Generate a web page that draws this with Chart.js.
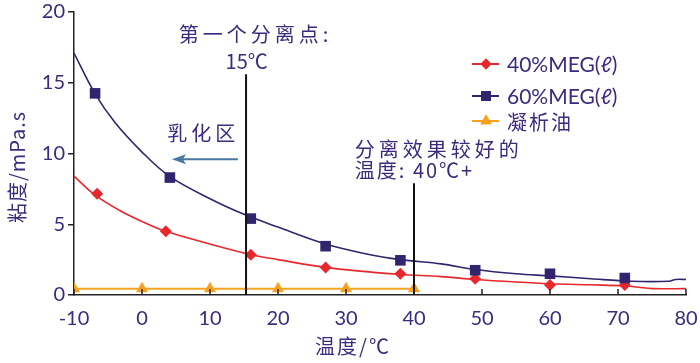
<!DOCTYPE html>
<html><head><meta charset="utf-8">
<script src="https://cdn.jsdelivr.net/npm/chart.js@4.4.0/dist/chart.umd.min.js"></script>
<style>html,body{margin:0;padding:0;background:#fff;}#wrap{width:700px;height:363px;}</style>
</head><body><div id="wrap"><canvas id="c" width="700" height="363"></canvas></div>
<script>
// ---- data ----
const xTicks = [-10, 0, 10, 20, 30, 40, 50, 60, 70, 80];
const yTicks = [0, 5, 10, 15, 20];

const meg40X = [-6.6, 3.5, 16, 27, 38, 49, 60, 71];
const meg40Y = [7.15, 4.5, 2.85, 1.95, 1.5, 1.15, 0.7, 0.7];
const meg60X = [-6.9, 4.1, 16, 27, 38, 49, 60, 71];
const meg60Y = [14.25, 8.3, 5.4, 3.45, 2.45, 1.75, 1.5, 1.2];
const oilX = [-10, 0, 10, 20, 30, 40];
const oilY = [0.45, 0.45, 0.45, 0.45, 0.45, 0.45];

const curve40X = [-10, -7, -3, 0, 3.5, 10, 16, 20, 27, 33, 38, 44, 49, 55, 60, 66, 71, 73, 75, 80];
const curve40Y = [8.4, 7.1, 5.9, 5.2, 4.5, 3.6, 2.85, 2.5, 1.95, 1.65, 1.45, 1.3, 1.1, 0.92, 0.8, 0.72, 0.65, 0.55, 0.45, 0.45];
const curve60X = [-10, -7, -4, 0, 4, 10, 15, 20, 27, 33, 38, 44, 49, 55, 60, 66, 72, 77.5, 78.5, 80];
const curve60Y = [17.1, 14.3, 12.2, 10.1, 8.4, 6.8, 5.7, 4.8, 3.6, 2.9, 2.5, 2.2, 1.8, 1.5, 1.35, 1.15, 0.97, 0.97, 1.1, 1.1];

const seriesNames = ['40%MEG(ℓ)', '60%MEG(ℓ)', '凝析油'];
const C40 = '#e8282c', C60 = '#33246f', COIL = '#f5a21f', TXT = '#3b2a7e', ARROW = '#4b78a3';

const zip = (xs, ys) => xs.map((x, i) => ({x, y: ys[i]}));

const annot = {
  id: 'annot',
  afterDatasetsDraw(chart) {
    const {ctx, scales: {x, y}} = chart;
    ctx.save();
    // vertical separation lines
    ctx.strokeStyle = '#111'; ctx.lineWidth = 2;
    ctx.beginPath();
    ctx.moveTo(x.getPixelForValue(15.3), y.getPixelForValue(15.6));
    ctx.lineTo(x.getPixelForValue(15.3), y.getPixelForValue(0));
    ctx.moveTo(x.getPixelForValue(40), y.getPixelForValue(7.9));
    ctx.lineTo(x.getPixelForValue(40), y.getPixelForValue(0));
    ctx.stroke();
    // inward x ticks
    ctx.strokeStyle = '#222'; ctx.lineWidth = 1.5;
    ctx.beginPath();
    xTicks.forEach(v => { const px = x.getPixelForValue(v); ctx.moveTo(px, y.bottom); ctx.lineTo(px, y.bottom - 6); });
    ctx.stroke();
    // arrow
    const ay = y.getPixelForValue(9.6), ax1 = x.getPixelForValue(14.1), ax0 = x.getPixelForValue(4.4);
    ctx.strokeStyle = ARROW; ctx.fillStyle = ARROW; ctx.lineWidth = 2;
    ctx.beginPath(); ctx.moveTo(ax1, ay); ctx.lineTo(ax0 + 10, ay); ctx.stroke();
    ctx.beginPath(); ctx.moveTo(ax0, ay); ctx.lineTo(ax0 + 14, ay - 5); ctx.lineTo(ax0 + 11, ay); ctx.lineTo(ax0 + 14, ay + 5); ctx.closePath(); ctx.fill();
    // texts
    ctx.fillStyle = TXT; ctx.textBaseline = 'middle';
    ctx.font = '20px "Noto Sans CJK SC"';
    ctx.letterSpacing = '4px';
    ctx.textAlign = 'center';
    ctx.fillText('第一个分离点:', x.getPixelForValue(16.7), y.getPixelForValue(18.45));
    ctx.fillText('乳化区', x.getPixelForValue(9.0), y.getPixelForValue(11.4));
    ctx.letterSpacing = '0px';
    ctx.fillText('15℃', x.getPixelForValue(15.4), y.getPixelForValue(16.5));
    ctx.textAlign = 'left';
    ctx.letterSpacing = '4px';
    ctx.fillText('分离效果较好的', x.getPixelForValue(31.3), y.getPixelForValue(10.3));
    ctx.letterSpacing = '2px';
    ctx.fillText('温度: 40℃+', x.getPixelForValue(31.3), y.getPixelForValue(8.8));
    ctx.letterSpacing = '0px';
    // axis titles
    ctx.font = '20px "Noto Sans CJK SC"';
    ctx.textAlign = 'center';
    ctx.letterSpacing = '2px';
    ctx.fillText('温度/℃', 353, 346);
    ctx.letterSpacing = '1px';
    ctx.save(); ctx.translate(17, 167); ctx.rotate(-Math.PI / 2); ctx.fillText('粘度/mPa.s', 0, 0); ctx.restore();
    // legend
    const rows = [
      {name: seriesNames[0], c: C40, st: 'rectRot', r: 5.5, y: 64},
      {name: seriesNames[1], c: C60, st: 'rect', r: 7, y: 96},
      {name: seriesNames[2], c: COIL, st: 'triangle', r: 6.5, y: 121}
    ];
    rows.forEach(rw => {
      ctx.strokeStyle = rw.c; ctx.lineWidth = 2;
      ctx.beginPath(); ctx.moveTo(472, rw.y); ctx.lineTo(499, rw.y); ctx.stroke();
      ctx.fillStyle = rw.c;
      Chart.helpers.drawPoint(ctx, {pointStyle: rw.st, radius: rw.r, rotation: 0, borderWidth: 0}, 486, rw.y);
      ctx.fill();
      ctx.fillStyle = TXT; ctx.textAlign = 'left';
      ctx.font = rw.name === '凝析油' ? '20px "Noto Sans CJK SC"' : '21px Lato';
      ctx.letterSpacing = rw.name === '凝析油' ? '2px' : '0px';
      ctx.fillText(rw.name, 507, rw.y + 1);
    });
    ctx.restore();
  }
};

new Chart(document.getElementById('c'), {
  type: 'scatter',
  data: {
    datasets: [
      {label: 'c60', data: zip(curve60X, curve60Y), showLine: true, borderColor: C60, borderWidth: 1.6, pointRadius: 0, tension: 0.35},
      {label: 'c40', data: zip(curve40X, curve40Y), showLine: true, borderColor: C40, borderWidth: 1.6, pointRadius: 0, tension: 0.35},
      {label: seriesNames[2], data: zip(oilX, oilY), showLine: true, borderColor: COIL, backgroundColor: COIL, borderWidth: 2, pointStyle: 'triangle', pointRadius: 7, pointBorderWidth: 0},
      {label: seriesNames[1], data: zip(meg60X, meg60Y), showLine: false, backgroundColor: C60, borderColor: C60, pointStyle: 'rect', pointRadius: 7.5, pointBorderWidth: 0},
      {label: seriesNames[0], data: zip(meg40X, meg40Y), showLine: false, backgroundColor: C40, borderColor: C40, pointStyle: 'rectRot', pointRadius: 6, pointBorderWidth: 0}
    ]
  },
  options: {
    responsive: false, animation: false, devicePixelRatio: 1,
    layout: {padding: {top: 12, right: 14, left: 0, bottom: 0}},
    plugins: {legend: {display: false}, tooltip: {enabled: false}},
    scales: {
      x: {
        type: 'linear', min: -10, max: 80,
        afterFit(s) { s.height = 68; s.paddingLeft = 0; s.paddingRight = 0; },
        afterBuildTicks(s) { s.ticks = xTicks.map(v => ({value: v})); },
        grid: {display: true, drawOnChartArea: false, drawTicks: false},
        border: {display: true, color: '#222', width: 1.5},
        ticks: {padding: 12, color: TXT, font: {family: 'Lato', size: 20}, maxRotation: 0}
      },
      y: {
        min: 0, max: 20,
        afterFit(s) { s.width = 74; s.paddingTop = 0; s.paddingBottom = 0; },
        afterBuildTicks(s) { s.ticks = yTicks.map(v => ({value: v})); },
        grid: {display: true, drawOnChartArea: false, drawTicks: true, tickLength: 6, color: '#222', lineWidth: 1.5},
        border: {display: true, color: '#222', width: 1.5},
        ticks: {padding: 3, color: TXT, font: {family: 'Lato', size: 20}}
      }
    }
  },
  plugins: [annot]
});
</script></body></html>
